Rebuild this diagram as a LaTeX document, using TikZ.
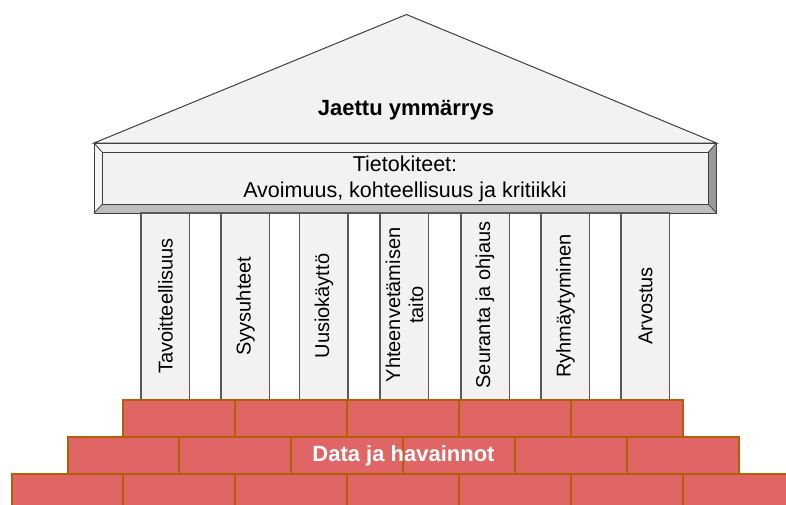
\documentclass[tikz,border=0pt]{standalone}
\usepackage{fontspec}
\setmainfont{Liberation Sans}
\begin{document}
\begin{tikzpicture}[x=1pt,y=-1pt,
  roof/.style={fill=roofgray,draw=linegray,line width=1pt},
  colbox/.style={fill=roofgray,draw=colline,line width=1.2pt},
  gapbox/.style={fill=white,draw=colline,line width=1.2pt},
  brick/.style={fill=brickred,draw=brickline,line width=2pt},
  coltext/.style={rotate=90,font=\fontsize{20}{23}\selectfont,align=center,text=black},
  ]
\definecolor{roofgray}{HTML}{F2F2F2}
\definecolor{linegray}{HTML}{404040}
\definecolor{colline}{HTML}{5A5A5A}
\definecolor{bevellight}{HTML}{F4F4F4}
\definecolor{bevelbottom}{HTML}{BDBDBD}
\definecolor{bevelright}{HTML}{999999}
\definecolor{brickred}{HTML}{E06666}
\definecolor{brickline}{HTML}{B45F06}
\useasboundingbox (0,0) rectangle (786,504);
% pediment
\draw[roof] (94,143) -- (406.5,14.5) -- (716.5,143) -- cycle;
\node[font=\bfseries\fontsize{22}{26}\selectfont] (roofText) at (406,110) {Jaettu ymmärrys};
% entablature with bevel
\fill[bevellight] (94,143) -- (716.5,143) -- (708.5,152) -- (102,152) -- cycle;
\fill[bevellight] (94,143) -- (102,152) -- (102,204.5) -- (94,213) -- cycle;
\fill[bevelright] (716.5,143) -- (716.5,213) -- (708.5,204.5) -- (708.5,152) -- cycle;
\fill[bevelbottom] (94,213) -- (102,204.5) -- (708.5,204.5) -- (716.5,213) -- cycle;
\fill[roofgray] (102,152) rectangle (708.5,204.5);
\draw[linegray,line width=1pt] (94,143) rectangle (716.5,213);
\draw[linegray,line width=0.8pt] (102,152) rectangle (708.5,204.5);
\draw[linegray,line width=0.8pt] (94,143) -- (102,152) (716.5,143) -- (708.5,152)
   (94,213) -- (102,204.5) (716.5,213) -- (708.5,204.5);
\node[font=\fontsize{21.5}{26}\selectfont,align=center] (beamText) at (405,178.5)
  {Tietokiteet:\\Avoimuus, kohteellisuus ja kritiikki};
% columns
\draw[gapbox] (141,213) rectangle (669.5,400);
\foreach \x/\n in {141/1,221/2,299.5/3,380/4,461/5,541/6,621/7}{
  \draw[colbox] (\x,213) rectangle ++(48.5,187);
}
\node[coltext] (c1) at (165.5,306) {Tavoitteellisuus};
\node[coltext] (c2) at (245.5,306) {Syysuhteet};
\node[coltext] (c3) at (324,306) {Uusiokäyttö};
\node[coltext] (c4) at (404.5,305) {Yhteenvetämisen\\taito};
\node[coltext] (c5) at (485,305) {Seuranta ja ohjaus};
\node[coltext] (c6) at (565.5,306) {Ryhmäytyminen};
\node[coltext] (c7) at (645.5,306) {Arvostus};
% bricks
\begin{scope}
\clip (0,0) rectangle (786,504);
\foreach \i in {0,...,4}{
  \draw[brick] (123+111.9*\i,400) rectangle ++(111.9,36.5);
}
\foreach \i in {0,...,5}{
  \draw[brick] (67.5+111.9*\i,436.5) rectangle ++(111.9,37);
}
\foreach \i in {0,...,6}{
  \draw[brick] (11.5+111.9*\i,473.5) rectangle ++(111.9,40);
}
\end{scope}
\node[font=\bfseries\fontsize{22}{26}\selectfont,text=white] (baseText) at (403.5,456) {Data ja havainnot};
\end{tikzpicture}
\end{document}
